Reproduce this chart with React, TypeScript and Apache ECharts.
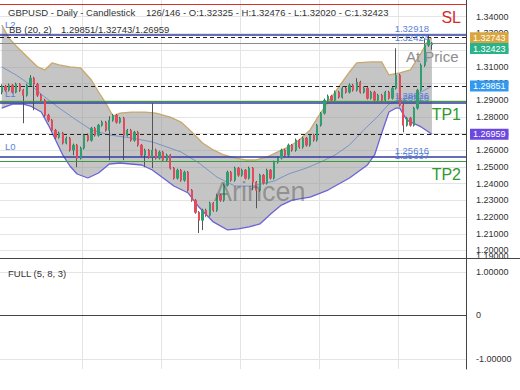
import React, { useEffect, useRef } from 'react';
import * as echarts from 'echarts';

const FONT = '"Liberation Sans", Arial, sans-serif';

// slots on the category axis (last ones empty, right offset)
const SLOT_COUNT = 130;
const categories: string[] = Array.from({ length: SLOT_COUNT }, (_, i) => String(i + 1));
// month boundaries (vertical grid lines)
const monthStarts = [23, 45, 67, 89, 111];

// OHLC: [open, close, low, high]
const candles: number[][] = [
  [1.2948, 1.2984, 1.2935, 1.2995], [1.2984, 1.2960, 1.2950, 1.2992], [1.2960, 1.2990, 1.2952, 1.3000],
  [1.2990, 1.2948, 1.2940, 1.2996], [1.2948, 1.2996, 1.2942, 1.3005], [1.2996, 1.2960, 1.2950, 1.3002],
  [1.2960, 1.2930, 1.2762, 1.2968], [1.2930, 1.2990, 1.2922, 1.2998], [1.2990, 1.3032, 1.2982, 1.3050],
  [1.3032, 1.2996, 1.2840, 1.3040], [1.2996, 1.2930, 1.2920, 1.3004], [1.2930, 1.2900, 1.2890, 1.2938],
  [1.2900, 1.2810, 1.2800, 1.2908], [1.2810, 1.2780, 1.2770, 1.2818], [1.2780, 1.2720, 1.2710, 1.2788],
  [1.2720, 1.2678, 1.2668, 1.2728], [1.2678, 1.2702, 1.2670, 1.2712], [1.2702, 1.2643, 1.2635, 1.2710],
  [1.2643, 1.2672, 1.2636, 1.2682], [1.2672, 1.2601, 1.2592, 1.2680], [1.2601, 1.2631, 1.2571, 1.2640],
  [1.2631, 1.2553, 1.2499, 1.2638], [1.2553, 1.2613, 1.2545, 1.2622], [1.2613, 1.2690, 1.2605, 1.2698],
  [1.2690, 1.2660, 1.2652, 1.2700], [1.2660, 1.2732, 1.2652, 1.2740], [1.2732, 1.2690, 1.2682, 1.2740],
  [1.2690, 1.2750, 1.2682, 1.2758], [1.2750, 1.2768, 1.2742, 1.2778], [1.2768, 1.2720, 1.2712, 1.2776],
  [1.2720, 1.2780, 1.2541, 1.2804], [1.2780, 1.2810, 1.2772, 1.2818], [1.2810, 1.2768, 1.2760, 1.2818],
  [1.2768, 1.2792, 1.2760, 1.2800], [1.2792, 1.2690, 1.2541, 1.2800], [1.2690, 1.2720, 1.2682, 1.2728],
  [1.2720, 1.2660, 1.2652, 1.2728], [1.2660, 1.2708, 1.2652, 1.2716], [1.2708, 1.2631, 1.2622, 1.2716],
  [1.2631, 1.2571, 1.2562, 1.2638], [1.2571, 1.2601, 1.2499, 1.2610], [1.2601, 1.2559, 1.2550, 1.2608],
  [1.2559, 1.2601, 1.2493, 1.2882], [1.2601, 1.2553, 1.2545, 1.2610], [1.2553, 1.2589, 1.2545, 1.2598],
  [1.2589, 1.2541, 1.2532, 1.2596], [1.2541, 1.2571, 1.2532, 1.2580], [1.2571, 1.2493, 1.2485, 1.2578],
  [1.2493, 1.2433, 1.2425, 1.2500], [1.2433, 1.2481, 1.2425, 1.2490], [1.2481, 1.2421, 1.2412, 1.2488],
  [1.2421, 1.2469, 1.2412, 1.2478], [1.2469, 1.2361, 1.2352, 1.2476], [1.2361, 1.2301, 1.2292, 1.2368],
  [1.2301, 1.2229, 1.2220, 1.2308], [1.2229, 1.2181, 1.2104, 1.2236], [1.2181, 1.2241, 1.2122, 1.2250],
  [1.2241, 1.2211, 1.2202, 1.2250], [1.2211, 1.2283, 1.2203, 1.2292], [1.2283, 1.2241, 1.2232, 1.2290],
  [1.2241, 1.2331, 1.2232, 1.2340], [1.2331, 1.2301, 1.2292, 1.2338], [1.2301, 1.2391, 1.2292, 1.2400],
  [1.2391, 1.2469, 1.2383, 1.2478], [1.2469, 1.2421, 1.2412, 1.2476], [1.2421, 1.2493, 1.2412, 1.2502],
  [1.2493, 1.2451, 1.2442, 1.2500], [1.2451, 1.2481, 1.2442, 1.2490], [1.2481, 1.2433, 1.2425, 1.2488],
  [1.2433, 1.2493, 1.2425, 1.2502], [1.2493, 1.2409, 1.2361, 1.2500], [1.2409, 1.2361, 1.2253, 1.2416],
  [1.2361, 1.2451, 1.2352, 1.2460], [1.2451, 1.2403, 1.2395, 1.2458], [1.2403, 1.2481, 1.2395, 1.2490],
  [1.2481, 1.2433, 1.2425, 1.2488], [1.2433, 1.2529, 1.2425, 1.2538], [1.2529, 1.2553, 1.2520, 1.2562],
  [1.2553, 1.2601, 1.2545, 1.2610], [1.2601, 1.2571, 1.2562, 1.2608], [1.2571, 1.2631, 1.2562, 1.2640],
  [1.2631, 1.2601, 1.2592, 1.2638], [1.2601, 1.2661, 1.2592, 1.2670], [1.2661, 1.2619, 1.2610, 1.2668],
  [1.2619, 1.2673, 1.2610, 1.2682], [1.2673, 1.2631, 1.2622, 1.2680], [1.2631, 1.2690, 1.2622, 1.2698],
  [1.2690, 1.2661, 1.2652, 1.2698], [1.2661, 1.2750, 1.2652, 1.2758], [1.2750, 1.2822, 1.2742, 1.2830],
  [1.2822, 1.2900, 1.2814, 1.2910], [1.2900, 1.2924, 1.2892, 1.2934], [1.2924, 1.2900, 1.2892, 1.2932],
  [1.2900, 1.2948, 1.2892, 1.2958], [1.2948, 1.2918, 1.2910, 1.2956], [1.2918, 1.2972, 1.2910, 1.2982],
  [1.2972, 1.2948, 1.2940, 1.2980], [1.2948, 1.2990, 1.2940, 1.3000], [1.2990, 1.2960, 1.2952, 1.2998],
  [1.2960, 1.3008, 1.2952, 1.3032], [1.3008, 1.2948, 1.2940, 1.3016], [1.2948, 1.2972, 1.2940, 1.2982],
  [1.2972, 1.2912, 1.2904, 1.2980], [1.2912, 1.2948, 1.2904, 1.2956], [1.2948, 1.2900, 1.2892, 1.2956],
  [1.2900, 1.2930, 1.2892, 1.2938], [1.2930, 1.2900, 1.2892, 1.2938], [1.2900, 1.2948, 1.2892, 1.2956],
  [1.2948, 1.2912, 1.2904, 1.2956], [1.2912, 1.2972, 1.2904, 1.2980], [1.2972, 1.3050, 1.2964, 1.3211],
  [1.3050, 1.2870, 1.2862, 1.3058], [1.2870, 1.2750, 1.2708, 1.2878], [1.2750, 1.2792, 1.2742, 1.2800],
  [1.2792, 1.2750, 1.2742, 1.2800], [1.2750, 1.2852, 1.2742, 1.2860], [1.2852, 1.2960, 1.2844, 1.2968],
  [1.2960, 1.3110, 1.2952, 1.3120], [1.3110, 1.3229, 1.3100, 1.3271], [1.3229, 1.3259, 1.3220, 1.3289],
  [1.32325, 1.32423, 1.32020, 1.32476],
];

// Bollinger bands: [bar index, value]
const upperBand: number[][] = [
  [0, 1.3350], [2, 1.3272], [4, 1.3225], [6, 1.3183], [8, 1.3141], [10, 1.3099], [12, 1.3081], [14, 1.3123],
  [16, 1.3111], [19, 1.3099], [22, 1.3093], [25, 1.3021], [27, 1.2949], [29, 1.2883], [31, 1.2805], [33, 1.2823],
  [36, 1.2829], [40, 1.2829], [43, 1.2823], [47, 1.2799], [50, 1.2769], [53, 1.2710], [56, 1.2644], [59, 1.2602],
  [62, 1.2572], [65, 1.2554], [68, 1.2542], [71, 1.2542], [74, 1.2560], [77, 1.2590], [80, 1.2620], [83, 1.2662],
  [86, 1.2722], [88, 1.2793], [91, 1.2889], [94, 1.2979], [97, 1.3069], [99, 1.3123], [103, 1.3129], [106, 1.3129],
  [108, 1.3051], [111, 1.3063], [114, 1.3081], [117, 1.3183], [119, 1.3260], [120, 1.32743],
];
const lowerBand: number[][] = [
  [0, 1.2853], [3, 1.2877], [6, 1.2877], [8, 1.2865], [11, 1.2829], [13, 1.2751], [15, 1.2662], [17, 1.2572],
  [19, 1.2506], [21, 1.2458], [24, 1.2434], [27, 1.2464], [30, 1.2518], [33, 1.2524], [36, 1.2518], [39, 1.2512],
  [42, 1.2482], [45, 1.2434], [48, 1.2386], [52, 1.2344], [55, 1.2260], [59, 1.2171], [63, 1.2123], [66, 1.2129],
  [69, 1.2141], [72, 1.2159], [75, 1.2219], [78, 1.2272], [81, 1.2302], [86, 1.2320], [91, 1.2362], [97, 1.2434],
  [102, 1.2512], [104, 1.2572], [106, 1.2704], [108, 1.2829], [110, 1.2853], [111, 1.2853], [113, 1.2781],
  [117, 1.2740], [120, 1.26959],
];
const middleBand: number[][] = [
  [0, 1.3099], [4, 1.3051], [8, 1.2991], [12, 1.2919], [16, 1.2853], [20, 1.2793], [25, 1.2722], [30, 1.2692],
  [36, 1.2674], [42, 1.2650], [50, 1.2590], [55, 1.2524], [60, 1.2440], [65, 1.2386], [70, 1.2386], [76, 1.2416],
  [80, 1.2458], [85, 1.2494], [89, 1.2530], [93, 1.2572], [97, 1.2632], [101, 1.2722], [105, 1.2805],
  [108, 1.2877], [111, 1.2895], [115, 1.2925], [120, 1.29851],
];

// levels
const slLevel = 1.3476;
const l2Level = 1.32918;
const refLevel = 1.32424;
const bbUpperNow = 1.32743;
const closeNow = 1.32423;
const bbMidNow = 1.29851;
const tp1Level = 1.28926;
const l1Level = 1.28826;
const bbLowerNow = 1.26959;
const l0Level = 1.25616;
const tp2Level = 1.25337;

// axes
const priceMin = 1.1952;
const priceMax = 1.35;
const priceTicks = [1.20, 1.21, 1.22, 1.23, 1.24, 1.25, 1.26, 1.27, 1.28, 1.29, 1.30, 1.31, 1.32, 1.33, 1.34];
const clampedBottomLabel = { value: 1.1968, text: '1.19000' }; // 1.19 label clamped at the panel bottom
const oscTicks = [-1, 0, 1];
const oscMin = -1.226;
const oscMax = 1.283;

const UP = '#2f9e70';
const DOWN = '#e34a5c';
const BLUE_LINE = '#2f3da0';
const GREEN_LINE = '#3c9c3c';
const LABEL_BLUE = '#5b7fd6';
const HIDDEN_LINE = { color: 'rgba(0,0,0,0)', width: 1, type: 'solid' };

const valueLabel = (v: number) => ({
  yAxis: v,
  lineStyle: HIDDEN_LINE,
  label: {
    show: true, position: 'insideEndTop', formatter: () => v.toFixed(5), color: LABEL_BLUE,
    fontSize: 9.5, distance: 1, padding: [0, 36, 0, 0], fontFamily: FONT,
  },
});
const boxLabel = (v: number, bg: string, lineStyle: any, extra: any = {}) => ({
  yAxis: v,
  lineStyle,
  label: {
    show: true, position: 'end', formatter: () => v.toFixed(5), color: '#fff', backgroundColor: bg,
    padding: [1, 3, 1, 3], fontSize: 9, distance: 4, fontFamily: FONT, ...extra,
  },
});
const levelLine = (v: number, color: string, width: number, text: string, pos: string, txtColor: string, size: number) => ({
  yAxis: v,
  lineStyle: { color, width, type: 'solid' },
  label: { show: true, position: pos, formatter: () => text, color: txtColor, fontSize: size, fontFamily: FONT },
});

export default function App() {
  const ref = useRef<HTMLDivElement>(null);
  useEffect(() => {
    if (!ref.current) return;
    const chart = echarts.init(ref.current, null, { renderer: 'svg' });
    const dashed = { type: [4, 3], color: '#222', width: 1 };
    const option: any = {
      animation: false,
      textStyle: { fontFamily: FONT },
      grid: [
        { left: 0, right: 54, top: 0, height: 258.5 },
        { left: 0, right: 54, top: 259.5, height: 109.5 },
      ],
      xAxis: [0, 1].map((g) => ({
        type: 'category', gridIndex: g, data: categories, boundaryGap: true,
        axisLine: { show: true, lineStyle: { color: '#444', width: 1 } },
        axisTick: { show: false }, axisLabel: { show: false },
        splitLine: { show: true, interval: (i: number) => monthStarts.includes(i), lineStyle: { color: '#e4e4e4' } },
      })),
      yAxis: [
        {
          type: 'value', gridIndex: 0, position: 'right', min: priceMin, max: priceMax, scale: true,
          axisLine: { show: true, lineStyle: { color: '#444' } },
          axisTick: { show: false, customValues: priceTicks },
          axisLabel: {
            customValues: priceTicks, fontSize: 9, color: '#333', margin: 10, fontFamily: FONT,
            formatter: (v: number) => v.toFixed(5),
          },
          splitLine: { show: true, lineStyle: { color: '#e4e4e4' } },
        },
        {
          type: 'value', gridIndex: 1, position: 'right', min: oscMin, max: oscMax,
          axisLine: { show: true, lineStyle: { color: '#444' } },
          axisTick: { show: false, customValues: oscTicks },
          axisLabel: {
            customValues: oscTicks, fontSize: 9, color: '#333', margin: 10, fontFamily: FONT,
            formatter: (v: number) => (v === 0 ? '0' : v.toFixed(5)),
          },
          splitLine: { show: true, lineStyle: { color: '#e4e4e4' } },
        },
      ],
      series: [
        {
          type: 'custom', xAxisIndex: 0, yAxisIndex: 0, silent: true, z: 1,
          data: [[0, upperBand[0][1]]],
          renderItem: (_p: any, api: any) => {
            const top = upperBand.map(([i, v]) => api.coord([i, v]));
            const bottom = lowerBand.slice().reverse().map(([i, v]) => api.coord([i, v]));
            return { type: 'polygon', shape: { points: top.concat(bottom) }, style: { fill: 'rgba(150,150,150,0.55)' } };
          },
        },
        { type: 'line', name: 'upper', data: upperBand, symbol: 'none', z: 3, lineStyle: { color: '#c9a86a', width: 1.3 } },
        { type: 'line', name: 'lower', data: lowerBand, symbol: 'none', z: 3, lineStyle: { color: '#6a62d8', width: 1.3 } },
        { type: 'line', name: 'middle', data: middleBand, symbol: 'none', z: 3, lineStyle: { color: '#7b93c9', width: 1 } },
        {
          type: 'candlestick', name: 'wick', barWidth: 1, z: 4, silent: true,
          data: candles.map(([o, c, l, h]) => [o, c, l, h]),
          itemStyle: { color: '#555', color0: '#555', borderColor: '#555', borderColor0: '#555', borderWidth: 1 },
        },
        {
          type: 'candlestick', name: 'body', barWidth: 1.8, z: 5,
          data: candles.map(([o, c]) => [o, c, Math.min(o, c), Math.max(o, c)]),
          itemStyle: { color: UP, color0: DOWN, borderColor: UP, borderColor0: DOWN, borderWidth: 1 },
          markLine: {
            silent: true, symbol: ['none', 'none'], animation: false, precision: 6,
            data: [
              {
                yAxis: clampedBottomLabel.value, lineStyle: HIDDEN_LINE,
                label: { show: true, position: 'end', distance: 10, formatter: () => clampedBottomLabel.text, color: '#333', fontSize: 9, fontFamily: FONT },
              },
              levelLine(slLevel, '#d9302c', 1, 'SL', 'insideEndBottom', '#d42a2a', 16),
              levelLine(l2Level, BLUE_LINE, 1.5, 'L2', 'insideStartTop', LABEL_BLUE, 9.5),
              valueLabel(l2Level),
              boxLabel(bbUpperNow, '#d9a53f', dashed),
              { yAxis: refLevel, lineStyle: { color: '#8a8a8a', width: 1, type: 'solid' }, label: { show: false } },
              valueLabel(refLevel),
              boxLabel(closeNow, '#2ab38b', HIDDEN_LINE, { verticalAlign: 'top' }),
              boxLabel(bbMidNow, '#3399ee', dashed),
              levelLine(tp1Level, GREEN_LINE, 1.2, 'TP1', 'insideEndBottom', '#2e9a2e', 16),
              valueLabel(tp1Level),
              levelLine(l1Level, BLUE_LINE, 1.5, 'L1', 'insideStartTop', LABEL_BLUE, 9.5),
              valueLabel(l1Level),
              boxLabel(bbLowerNow, '#6c48e0', dashed),
              levelLine(l0Level, BLUE_LINE, 1.5, 'L0', 'insideStartTop', LABEL_BLUE, 9.5),
              valueLabel(l0Level),
              levelLine(tp2Level, GREEN_LINE, 1.2, 'TP2', 'insideEndBottom', '#2e9a2e', 16),
              valueLabel(tp2Level),
            ],
          },
        },
        { type: 'line', name: 'full', xAxisIndex: 1, yAxisIndex: 1, data: [], symbol: 'none' },
      ],
      graphic: [
        { type: 'text', x: 8, y: 12, z: 50, style: { text: 'GBPUSD - Daily - Candlestick', fill: '#333', font: `9.5px ${FONT}`, verticalAlign: 'middle' } },
        { type: 'text', x: 146, y: 12, z: 50, style: { text: '126/146 - O:1.32325 - H:1.32476 - L:1.32020 - C:1.32423', fill: '#333', font: `9.5px ${FONT}`, verticalAlign: 'middle' } },
        { type: 'text', x: 9, y: 29, z: 50, style: { text: 'BB (20, 2)', fill: '#333', font: `9.5px ${FONT}`, verticalAlign: 'middle' } },
        { type: 'text', x: 61, y: 29, z: 50, style: { text: '1.29851/1.32743/1.26959', fill: '#333', font: `9.5px ${FONT}`, verticalAlign: 'middle' } },
        { type: 'text', x: 8, y: 273, z: 50, style: { text: 'FULL (5, 8, 3)', fill: '#333', font: `9.5px ${FONT}`, verticalAlign: 'middle' } },
        { type: 'text', x: 214, y: 192, z: 50, style: { text: 'Arincen', fill: 'rgba(80,80,80,0.45)', font: `27px ${FONT}`, verticalAlign: 'middle' } },
        { type: 'text', x: 406, y: 56, z: 50, style: { text: 'At Price', fill: '#8e8e8e', font: `15px ${FONT}`, verticalAlign: 'middle' } },
        { type: 'line', z: 50, shape: { x1: 466, y1: 258.5, x2: 520, y2: 258.5 }, style: { stroke: '#444', lineWidth: 1 } },
      ],
    };
    chart.setOption(option);
    return () => chart.dispose();
  }, []);
  return <div ref={ref} style={{ position: 'fixed', left: 0, top: 0, width: 520, height: 390, background: '#fff' }} />;
}
